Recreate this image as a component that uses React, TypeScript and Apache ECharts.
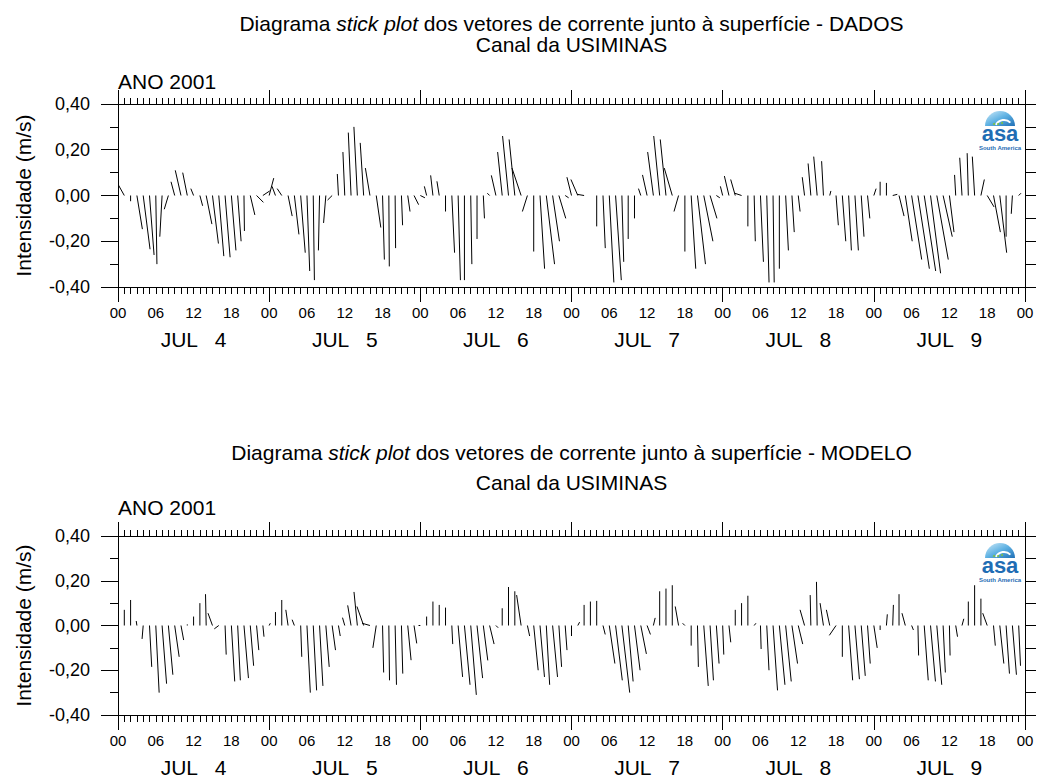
import React, { useEffect, useRef } from 'react';
import * as echarts from 'echarts';

const FONT = '"Liberation Sans", Arial, sans-serif';

// ---- tick / category labels ----
const hourTickLabels = ['00', '06', '12', '18'];
const labelHours = [0, 6, 12, 18, 24, 30, 36, 42, 48, 54, 60, 66, 72, 78, 84, 90, 96, 102, 108, 114, 120, 126, 132, 138, 144];
const dayLabels = ['JUL   4', 'JUL   5', 'JUL   6', 'JUL   7', 'JUL   8', 'JUL   9'];
const dayCenters = [12, 36, 60, 84, 108, 132];
const titleDados = 'Diagrama {i|stick plot} dos vetores de corrente junto à superfície - DADOS';
const titleModelo = 'Diagrama {i|stick plot} dos vetores de corrente junto à superfície - MODELO';
const subtitle = 'Canal da USIMINAS';
const yearLabel = 'ANO 2001';
const yName = 'Intensidade (m/s)';

// ---- hourly stick values (m/s), hour 0 = JUL 4 00h ----
// v = vertical (north) component, u = horizontal (east) component
const dadosV = [
  0.00, 0.05, -0.025, -0.147, -0.235, -0.26, -0.30, -0.18, -0.06, 0.06, 0.11, 0.10, 0.03, -0.045, -0.125, -0.21, -0.265, -0.27, -0.24, -0.20, -0.155, -0.085, -0.03, 0.02,
  0.076, 0.04, 0.03, -0.09, -0.17, -0.25, -0.33, -0.37, -0.24, -0.12, -0.02, 0.094, 0.19, 0.275, 0.30, 0.23, 0.12, -0.14, -0.28, -0.31, -0.23, -0.13, -0.07, -0.04,
  -0.01, 0.04, 0.088, 0.062, -0.07, -0.25, -0.37, -0.37, -0.30, -0.19, -0.10, 0.01, 0.088, 0.19, 0.26, 0.245, 0.12, -0.07, -0.245, -0.32, -0.30, -0.20, -0.10, -0.01,
  0.08, 0.07, 0.005, 0.00, -0.135, -0.23, -0.38, -0.37, -0.29, -0.19, -0.10, 0.03, 0.09, 0.19, 0.26, 0.245, 0.12, -0.07, -0.245, -0.32, -0.30, -0.20, -0.10, -0.01,
  0.04, 0.085, 0.07, 0.01, -0.135, -0.20, -0.29, -0.38, -0.38, -0.32, -0.24, -0.16, -0.07, 0.08, 0.14, 0.17, 0.15, 0.02, -0.13, -0.20, -0.24, -0.24, -0.18, -0.10,
  0.03, 0.06, 0.055, 0.005, -0.09, -0.20, -0.28, -0.32, -0.33, -0.34, -0.28, -0.18, -0.16, 0.09, 0.165, 0.185, 0.17, 0.07, -0.05, -0.16, -0.25, -0.18, -0.08, 0.01,
];
const dadosU = [
  0.00, -0.028, 0.00, 0.024, 0.030, 0.020, 0.005, -0.010, -0.018, -0.016, -0.025, -0.020, -0.012, 0.012, 0.025, 0.026, 0.022, 0.022, 0.020, 0.015, 0.002, 0.020, 0.030, 0.030,
  0.020, -0.015, -0.020, 0.018, 0.020, 0.020, 0.012, 0.005, -0.005, -0.010, -0.020, -0.005, -0.008, -0.012, -0.015, -0.015, -0.020, 0.020, 0.008, 0.002, 0.002, 0.005, 0.010, 0.020,
  0.020, -0.010, -0.010, -0.010, 0.000, 0.012, 0.010, 0.000, 0.005, 0.000, 0.005, -0.010, -0.020, -0.020, -0.026, -0.025, -0.040, -0.022, 0.000, 0.020, 0.036, 0.030, 0.030, 0.015,
  -0.020, -0.030, -0.030, 0.000, 0.000, 0.010, 0.020, 0.025, 0.008, 0.000, 0.000, -0.010, -0.020, -0.025, -0.026, -0.025, -0.035, -0.020, 0.000, 0.020, 0.035, 0.040, 0.030, 0.015,
  -0.010, -0.020, -0.020, -0.030, 0.000, 0.005, 0.013, 0.010, 0.005, 0.000, 0.012, 0.010, 0.008, -0.010, -0.012, -0.015, -0.008, 0.005, 0.010, 0.015, 0.012, 0.015, 0.012, 0.010,
  0.010, 0.000, 0.000, 0.020, 0.022, 0.030, 0.044, 0.050, 0.050, 0.044, 0.050, 0.040, 0.020, -0.005, -0.010, -0.005, -0.010, 0.015, 0.030, 0.030, 0.030, 0.000, -0.005, 0.010,
];
const modeloV = [
  0.00, 0.07, 0.114, 0.02, -0.06, -0.185, -0.30, -0.26, -0.22, -0.14, -0.065, 0.005, 0.04, 0.10, 0.14, 0.055, -0.015, -0.13, -0.25, -0.245, -0.235, -0.18, -0.11, -0.05,
  0.01, 0.06, 0.114, 0.07, 0.026, -0.14, -0.30, -0.29, -0.27, -0.185, -0.11, -0.047, 0.035, 0.09, 0.15, 0.085, 0.01, -0.10, -0.21, -0.245, -0.265, -0.215, -0.155, -0.08,
  0.00, 0.04, 0.107, 0.092, 0.08, -0.083, -0.23, -0.265, -0.31, -0.235, -0.156, -0.083, -0.01, 0.077, 0.172, 0.153, 0.136, -0.047, -0.20, -0.23, -0.265, -0.23, -0.185, -0.11,
  -0.047, 0.015, 0.092, 0.107, 0.11, -0.04, -0.17, -0.245, -0.30, -0.25, -0.20, -0.127, -0.04, 0.034, 0.153, 0.165, 0.18, 0.085, 0.01, -0.09, -0.185, -0.27, -0.245, -0.17,
  -0.13, -0.075, 0.07, 0.10, 0.133, 0.01, -0.105, -0.20, -0.29, -0.265, -0.25, -0.17, -0.083, 0.07, 0.136, 0.195, 0.10, 0.07, -0.044, -0.14, -0.245, -0.24, -0.225, -0.17,
  -0.10, -0.02, 0.05, 0.092, 0.14, 0.055, -0.02, -0.134, -0.245, -0.25, -0.265, -0.21, -0.134, -0.05, 0.03, 0.107, 0.18, 0.12, 0.055, -0.09, -0.17, -0.215, -0.22, -0.18,
];
const modeloU = [
  0, 0, 0, -0.003, -0.005, 0.01, 0.015, 0.02, 0.02, 0.02, 0.012, 0, 0, 0, -0.003, -0.02, -0.02, 0.005, 0.015, 0.012, 0.02, 0.015, 0.01, 0.005,
  0.005, 0, 0, -0.01, -0.01, 0.005, 0.015, 0.015, 0.015, 0.015, 0.015, 0.008, -0.01, -0.015, -0.015, -0.03, -0.035, -0.015, 0.005, 0.003, 0.006, 0.006, 0.015, 0.012,
  -0.008, 0, 0, 0, 0, 0.004, 0.02, 0.025, 0.025, 0.025, 0.02, 0.02, 0.01, 0, 0, 0, -0.02, 0.01, 0.02, 0.02, 0.015, 0.022, 0.012, 0.008,
  0, 0.008, 0, 0, 0, 0.01, 0.025, 0.03, 0.035, 0.022, 0.025, 0.025, 0.015, 0.008, 0, 0, 0, -0.015, -0.01, 0, 0.004, 0.02, 0.015, 0.012,
  0.005, 0.008, 0, 0, 0, 0.008, 0.003, 0.01, 0.02, 0.025, 0.025, 0.025, 0.02, -0.02, -0.003, -0.003, -0.015, -0.015, -0.03, 0, 0.018, 0.02, 0.018, 0.012,
  0.015, 0, 0.004, 0.003, 0, -0.015, 0.008, 0.003, 0.018, 0.022, 0.022, 0.01, 0.003, 0.008, 0.008, 0, 0, 0, -0.02, 0.008, 0.018, 0.015, 0.018, 0.008,
];

const toSticks = (u: number[], v: number[]) => v.map((vi, i) => [i, u[i], vi]);

const fmtY = (v: number) => {
  const r = Math.abs(v) < 1e-9 ? 0 : v;
  return r.toFixed(2).replace('.', ',');
};

const black = { color: '#000', width: 1 };

const makeXAxes = (g: number) => [
  {
    gridIndex: g, type: 'value', position: 'bottom', min: 0, max: 144, interval: 24,
    axisLine: { show: true, onZero: false, lineStyle: black },
    axisTick: { show: true, inside: false, length: 15, lineStyle: black },
    minorTick: { show: true, splitNumber: 24, length: 7, lineStyle: black },
    splitLine: { show: false }, minorSplitLine: { show: false },
    axisLabel: {
      show: true, customValues: labelHours,
      formatter: (v: number) => hourTickLabels[Math.round(v / 6) % 4],
      margin: 18, fontSize: 15, color: '#000', fontFamily: FONT,
    },
  },
  {
    gridIndex: g, type: 'value', position: 'bottom', offset: 0, min: 0, max: 144, interval: 24,
    axisLine: { show: false, onZero: false }, axisTick: { show: false }, splitLine: { show: false },
    axisLabel: {
      show: true, customValues: dayCenters,
      formatter: (v: number) => dayLabels[Math.floor(v / 24)],
      margin: 42, fontSize: 21, color: '#000', fontFamily: FONT,
    },
  },
  {
    gridIndex: g, type: 'value', position: 'top', min: 0, max: 144, interval: 24,
    axisLine: { show: true, onZero: false, lineStyle: black },
    axisTick: { show: true, inside: false, length: 14, lineStyle: black },
    minorTick: { show: true, splitNumber: 24, length: 6, lineStyle: black },
    splitLine: { show: false }, minorSplitLine: { show: false },
    axisLabel: { show: false },
  },
];

const makeYAxes = (g: number) => [
  {
    gridIndex: g, type: 'value', position: 'left', min: -0.4, max: 0.4, interval: 0.2,
    axisLine: { show: true, onZero: false, lineStyle: black },
    axisTick: { show: true, inside: false, length: 17, lineStyle: black },
    minorTick: { show: true, splitNumber: 2, length: 8, lineStyle: black },
    splitLine: { show: false }, minorSplitLine: { show: false },
    axisLabel: { formatter: fmtY, margin: 28, fontSize: 18, color: '#000', fontFamily: FONT },
    name: yName, nameLocation: 'middle', nameRotate: 90, nameGap: 84,
    nameTextStyle: { fontSize: 21, color: '#000', fontFamily: FONT },
  },
  {
    gridIndex: g, type: 'value', position: 'right', min: -0.4, max: 0.4, interval: 0.2,
    axisLine: { show: true, onZero: false, lineStyle: black },
    axisTick: { show: true, inside: false, length: 11, lineStyle: black },
    minorTick: { show: true, splitNumber: 2, length: 11, lineStyle: black },
    splitLine: { show: false }, minorSplitLine: { show: false },
    axisLabel: { show: false },
  },
];

const stickRender = (params: any, api: any) => {
  const t = api.value(0);
  const u = api.value(1);
  const v = api.value(2);
  const base = api.coord([t, 0]);
  const tip = api.coord([t, v]);
  const unit = api.size([0, 1])[1];
  return {
    type: 'line',
    shape: { x1: base[0], y1: base[1], x2: base[0] + u * unit, y2: tip[1] },
    style: { stroke: '#000', lineWidth: 1 },
  };
};

const PLOT_LEFT = 118;
const PLOT_WIDTH = 907;
const PLOT_CX = PLOT_LEFT + PLOT_WIDTH / 2;
const panels = [
  { top: 104, height: 183, title: titleDados, t1: 23, t2: 44, ano: 81 },
  { top: 536, height: 181, title: titleModelo, t1: 452, t2: 482, ano: 507 },
];

const textEl = (x: number, y: number, text: string, fontSize: number, align: string, extra: any = {}) => ({
  type: 'text', x, y,
  style: {
    text, fill: '#000', fontSize, fontFamily: FONT, align, verticalAlign: 'middle',
    ...extra,
  },
});

const logo = (top: number) => ({
  type: 'group',
  children: [
    {
      type: 'sector',
      shape: { cx: 1000, cy: top + 22, r: 15, r0: 0, startAngle: Math.PI, endAngle: Math.PI * 2 },
      style: {
        fill: new echarts.graphic.LinearGradient(0, 0, 1, 1, [
          { offset: 0, color: '#cfeaf8' },
          { offset: 0.5, color: '#5fb2e3' },
          { offset: 1, color: '#1f6fb6' },
        ]),
      },
    },
    {
      type: 'arc',
      shape: { cx: 1004, cy: top + 25, r: 9, startAngle: Math.PI * 1.15, endAngle: Math.PI * 1.75 },
      style: { stroke: '#ffffff', lineWidth: 2, fill: null },
    },
    { type: 'circle', shape: { cx: 994, cy: top + 20, r: 1 }, style: { fill: '#7cc242' } },
    { type: 'circle', shape: { cx: 998, cy: top + 20, r: 1 }, style: { fill: '#7cc242' } },
    { type: 'circle', shape: { cx: 1002, cy: top + 19, r: 1 }, style: { fill: '#7cc242' } },
    {
      type: 'text', x: 1000, y: top + 29,
      style: { text: 'asa', fill: '#1f6db4', fontSize: 22, lineHeight: 18, fontWeight: 'bold', fontFamily: FONT, align: 'center', verticalAlign: 'middle' },
    },
    {
      type: 'text', x: 1000, y: top + 44,
      style: { text: 'South America', fill: '#1f6db4', fontSize: 6, lineHeight: 6, fontWeight: 'bold', fontFamily: FONT, align: 'center', verticalAlign: 'middle' },
    },
  ],
});

export default function App() {
  const ref = useRef<HTMLDivElement>(null);

  useEffect(() => {
    if (!ref.current) return;
    const chart = echarts.init(ref.current, undefined, { renderer: 'svg' });

    const graphics: any[] = [];
    panels.forEach((p) => {
      graphics.push(textEl(PLOT_CX, p.t1, p.title, 21, 'center', {
        rich: { i: { fontStyle: 'italic', fontSize: 21, fontFamily: FONT, fill: '#000' } },
      }));
      graphics.push(textEl(PLOT_CX, p.t2, subtitle, 21, 'center'));
      graphics.push(textEl(PLOT_LEFT, p.ano, yearLabel, 21, 'left'));
      graphics.push(logo(p.top));
    });

    chart.setOption({
      animation: false,
      backgroundColor: '#ffffff',
      textStyle: { fontFamily: FONT },
      grid: panels.map((p) => ({ left: PLOT_LEFT, top: p.top, width: PLOT_WIDTH, height: p.height, containLabel: false })),
      xAxis: [...makeXAxes(0), ...makeXAxes(1)],
      yAxis: [...makeYAxes(0), ...makeYAxes(1)],
      graphic: graphics,
      series: [
        {
          type: 'custom', name: 'DADOS', xAxisIndex: 0, yAxisIndex: 0,
          dimensions: ['hora', 'u', 'v'], encode: { x: 0, y: 2 },
          data: toSticks(dadosU, dadosV), renderItem: stickRender, clip: true, silent: true,
        },
        {
          type: 'custom', name: 'MODELO', xAxisIndex: 3, yAxisIndex: 2,
          dimensions: ['hora', 'u', 'v'], encode: { x: 0, y: 2 },
          data: toSticks(modeloU, modeloV), renderItem: stickRender, clip: true, silent: true,
        },
      ],
    });

    return () => chart.dispose();
  }, []);

  return (
    <div
      ref={ref}
      style={{ position: 'fixed', left: 0, top: 0, width: 1037, height: 778, background: '#fff' }}
    />
  );
}
